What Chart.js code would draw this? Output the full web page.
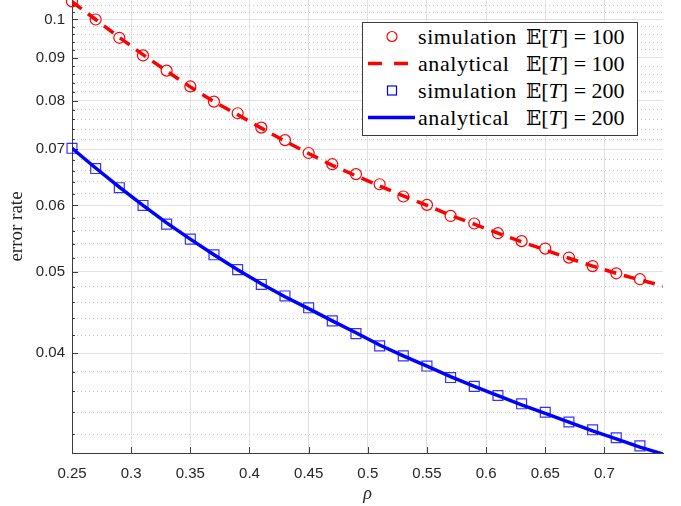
<!DOCTYPE html>
<html lang="en">
<head>
    <meta charset="UTF-8">
    <title>Error rate vs rho</title>
    <script src="https://cdn.jsdelivr.net/npm/chart.js"></script>
    <style>
        html, body {
            margin: 0;
            padding: 0;
            background: #fff;
        }
        .wrap {
            position: relative;
            width: 681px;
            height: 506px;
        }
        .legend {
            position: absolute;
            left: 362px;
            top: 22px;
            width: 274px;
            height: 112px;
            background: #fff;
            border: 1px solid #3c3c3c;
            font-family: "Liberation Serif", serif;
            font-size: 22px;
            color: #000;
        }
        .legend .row {
            position: absolute;
            left: 0;
            height: 27px;
            width: 100%;
        }
        .legend svg {
            position: absolute;
            left: 2px;
            top: 0;
        }
        .legend .word {
            position: absolute;
            left: 55px;
            top: 0;
            line-height: 27px;
            letter-spacing: 0.6px;
        }
        .legend .math {
            position: absolute;
            left: 163px;
            top: 0;
            line-height: 27px;
            white-space: nowrap;
        }
        .legend .bb {
            font-family: "DejaVu Serif", serif;
            font-size: 20px;
        }
    </style>
</head>
<body>
    <div class="wrap">
        <canvas id="myChart" width="681" height="506"></canvas>
        <div class="legend">
            <div class="row" style="top:0px">
                <svg width="50" height="27"><circle cx="27" cy="13.5" r="5" fill="none" stroke="#ff0000" stroke-width="1.2"/></svg>
                <span class="word">simulation</span>
                <span class="math"><span class="bb">𝔼</span>[<i>T</i>]&nbsp;=&nbsp;100</span>
            </div>
            <div class="row" style="top:27px">
                <svg width="50" height="27"><line x1="3" y1="13.5" x2="50" y2="13.5" stroke="#ff0000" stroke-width="3.5" stroke-dasharray="14 12"/></svg>
                <span class="word">analytical</span>
                <span class="math"><span class="bb">𝔼</span>[<i>T</i>]&nbsp;=&nbsp;100</span>
            </div>
            <div class="row" style="top:54px">
                <svg width="50" height="27"><rect x="22.5" y="9" width="9" height="9" fill="none" stroke="#0000ff" stroke-width="1.2"/></svg>
                <span class="word">simulation</span>
                <span class="math"><span class="bb">𝔼</span>[<i>T</i>]&nbsp;=&nbsp;200</span>
            </div>
            <div class="row" style="top:81px">
                <svg width="50" height="27"><line x1="3" y1="13.5" x2="50" y2="13.5" stroke="#0000ff" stroke-width="3.5"/></svg>
                <span class="word">analytical</span>
                <span class="math"><span class="bb">𝔼</span>[<i>T</i>]&nbsp;=&nbsp;200</span>
            </div>
        </div>
    </div>
    <script>
        // simulated points (rho = 0.25 ... 0.73)
        const rhoSim = [0.25, 0.27, 0.29, 0.31, 0.33, 0.35, 0.37, 0.39, 0.41, 0.43, 0.45, 0.47, 0.49,
                        0.51, 0.53, 0.55, 0.57, 0.59, 0.61, 0.63, 0.65, 0.67, 0.69, 0.71, 0.73];
        const sim100 = [0.1051, 0.1000, 0.0951, 0.0906, 0.0869, 0.0832, 0.0798, 0.0773, 0.0743, 0.0718,
                        0.0693, 0.0672, 0.0654, 0.0636, 0.0615, 0.0601, 0.0583, 0.0571, 0.0556, 0.0544,
                        0.0533, 0.0520, 0.0508, 0.0498, 0.0490];
        const sim200 = [0.0702, 0.0664, 0.0630, 0.0600, 0.0570, 0.0547, 0.0524, 0.0503, 0.0483, 0.0468,
                        0.0453, 0.0437, 0.0422, 0.0408, 0.0397, 0.0386, 0.0374, 0.0365, 0.0356, 0.0348,
                        0.0340, 0.0331, 0.0324, 0.0317, 0.0310];

        // analytical curves (rho = 0.25 ... 0.75)
        const rhoAna = [0.25, 0.27, 0.29, 0.31, 0.33, 0.35, 0.37, 0.39, 0.41, 0.43, 0.45, 0.47, 0.49,
                        0.51, 0.53, 0.55, 0.57, 0.59, 0.61, 0.63, 0.65, 0.67, 0.69, 0.71, 0.73, 0.75];
        const ana100 = [0.1050, 0.1000, 0.0952, 0.0908, 0.0868, 0.0831, 0.0798, 0.0770, 0.0742, 0.0716,
                        0.0692, 0.0670, 0.0651, 0.0633, 0.0616, 0.0600, 0.0584, 0.0570, 0.0556, 0.0543,
                        0.0531, 0.0519, 0.0508, 0.0498, 0.0489, 0.0481];
        const ana200 = [0.0702, 0.0665, 0.0631, 0.0600, 0.0572, 0.0547, 0.0524, 0.0503, 0.0484, 0.0467,
                        0.0452, 0.0437, 0.0423, 0.0409, 0.0397, 0.0386, 0.0375, 0.0365, 0.0356, 0.0347,
                        0.0339, 0.0331, 0.0323, 0.0316, 0.0309, 0.0303];

        // axis ticks
        const xTicks = [0.25, 0.3, 0.35, 0.4, 0.45, 0.5, 0.55, 0.6, 0.65, 0.7];
        const xTickLabels = ['0.25', '0.3', '0.35', '0.4', '0.45', '0.5', '0.55', '0.6', '0.65', '0.7'];
        const yMajor = [0.04, 0.05, 0.06, 0.07, 0.08, 0.09, 0.1];
        const yTickLabels = ['0.04', '0.05', '0.06', '0.07', '0.08', '0.09', '0.1'];
        const yMinor = [0.032, 0.034, 0.036, 0.038, 0.042, 0.044, 0.046, 0.048, 0.052, 0.054, 0.056, 0.058,
                        0.062, 0.064, 0.066, 0.068, 0.072, 0.074, 0.076, 0.078, 0.082, 0.084, 0.086, 0.088,
                        0.092, 0.094, 0.096, 0.098, 0.102, 0.104];

        function pts(xs, ys) {
            return xs.map(function(x, i) { return { x: x, y: ys[i] }; });
        }
        function isMajor(v) {
            return yMajor.some(function(m) { return Math.abs(m - v) < 1e-9; });
        }

        const axisColor = '#3c3c3c';

        // MATLAB-style ticks pointing into the plot
        const innerTicks = {
            id: 'innerTicks',
            beforeDatasetsDraw(chart) {
                const ctx = chart.ctx;
                const area = chart.chartArea;
                const xs = chart.scales.x, ys = chart.scales.y;
                ctx.save();
                ctx.strokeStyle = axisColor;
                ctx.lineWidth = 1;
                ctx.beginPath();
                xTicks.forEach(function(v) {
                    const px = Math.round(xs.getPixelForValue(v)) + 0.5;
                    ctx.moveTo(px, area.bottom);
                    ctx.lineTo(px, area.bottom - 6);
                });
                yMajor.concat(yMinor).forEach(function(v) {
                    const py = Math.round(ys.getPixelForValue(v)) + 0.5;
                    ctx.moveTo(area.left, py);
                    ctx.lineTo(area.left + (isMajor(v) ? 6 : 3), py);
                });
                ctx.stroke();
                ctx.restore();
            }
        };

        const ctx = document.getElementById('myChart').getContext('2d');
        const myChart = new Chart(ctx, {
            type: 'line',
            data: {
                datasets: [{
                    label: 'analytical E[T]=200',
                    data: pts(rhoAna, ana200),
                    borderColor: '#0000ff',
                    borderWidth: 3.5,
                    pointRadius: 0,
                    fill: false,
                    order: 0
                }, {
                    label: 'simulation E[T]=200',
                    data: pts(rhoSim, sim200),
                    showLine: false,
                    clip: false,
                    pointStyle: 'rect',
                    pointRadius: 7,
                    pointBorderWidth: 1.2,
                    pointBorderColor: 'rgba(0,0,255,0.8)',
                    pointBackgroundColor: 'rgba(0,0,0,0)',
                    order: 1
                }, {
                    label: 'analytical E[T]=100',
                    data: pts(rhoAna, ana100),
                    borderColor: '#ff0000',
                    borderWidth: 3.5,
                    borderDash: [12, 8],
                    pointRadius: 0,
                    fill: false,
                    order: 2
                }, {
                    label: 'simulation E[T]=100',
                    data: pts(rhoSim, sim100),
                    showLine: false,
                    clip: false,
                    pointStyle: 'circle',
                    pointRadius: 5.5,
                    pointBorderWidth: 1.2,
                    pointBorderColor: '#ff0000',
                    pointBackgroundColor: 'rgba(0,0,0,0)',
                    order: 3
                }]
            },
            options: {
                responsive: false,
                animation: false,
                events: [],
                layout: { autoPadding: false, padding: { left: 0, right: 18, top: 0, bottom: 0 } },
                plugins: {
                    legend: { display: false },
                    tooltip: { enabled: false }
                },
                scales: {
                    x: {
                        type: 'linear',
                        min: 0.25,
                        max: 0.7495,
                        afterBuildTicks: function(scale) {
                            scale.ticks = xTicks.map(function(v) { return { value: v }; });
                        },
                        afterFit: function(scale) {
                            scale.height = 53;
                            scale.paddingLeft = 0;
                            scale.paddingRight = 0;
                        },
                        ticks: {
                            autoSkip: false,
                            maxRotation: 0,
                            padding: 12,
                            color: '#262626',
                            font: { family: 'Liberation Sans', size: 15 },
                            callback: function(value) {
                                const i = xTicks.findIndex(function(t) { return Math.abs(t - value) < 1e-9; });
                                return i >= 0 ? xTickLabels[i] : '';
                            }
                        },
                        grid: {
                            color: '#e2e2e2',
                            lineWidth: 1,
                            drawTicks: false
                        },
                        border: { display: true, color: axisColor, width: 1 },
                        title: {
                            display: true,
                            text: 'ρ',
                            color: '#262626',
                            font: { family: 'Liberation Serif', size: 18, style: 'italic' },
                            padding: { top: 0, bottom: 1 }
                        }
                    },
                    y: {
                        type: 'logarithmic',
                        min: 0.0304,
                        max: 0.1055,
                        bounds: 'data',
                        afterBuildTicks: function(scale) {
                            scale.ticks = yMajor.concat(yMinor).sort(function(a, b) { return a - b; })
                                .map(function(v) { return { value: v, major: isMajor(v) }; });
                        },
                        afterFit: function(scale) {
                            scale.width = 72;
                            scale.paddingTop = 0;
                            scale.paddingBottom = 0;
                        },
                        ticks: {
                            autoSkip: false,
                            padding: 7,
                            color: '#262626',
                            font: { family: 'Liberation Sans', size: 15 },
                            callback: function(value) {
                                const i = yMajor.findIndex(function(t) { return Math.abs(t - value) < 1e-9; });
                                return i >= 0 ? yTickLabels[i] : '';
                            }
                        },
                        grid: {
                            color: function(c) {
                                return c.tick && isMajor(c.tick.value) ? '#e2e2e2' : '#c4c4c4';
                            },
                            lineWidth: 1,
                            drawTicks: false
                        },
                        border: {
                            display: true,
                            color: axisColor,
                            width: 1,
                            dash: function(c) {
                                return c.tick && !isMajor(c.tick.value) ? [1, 3] : [];
                            }
                        },
                        title: {
                            display: true,
                            text: 'error rate',
                            color: '#262626',
                            font: { family: 'Liberation Serif', size: 19 },
                            padding: { top: 6, bottom: 0 }
                        }
                    }
                }
            },
            plugins: [innerTicks]
        });
    </script>
</body>
</html>
